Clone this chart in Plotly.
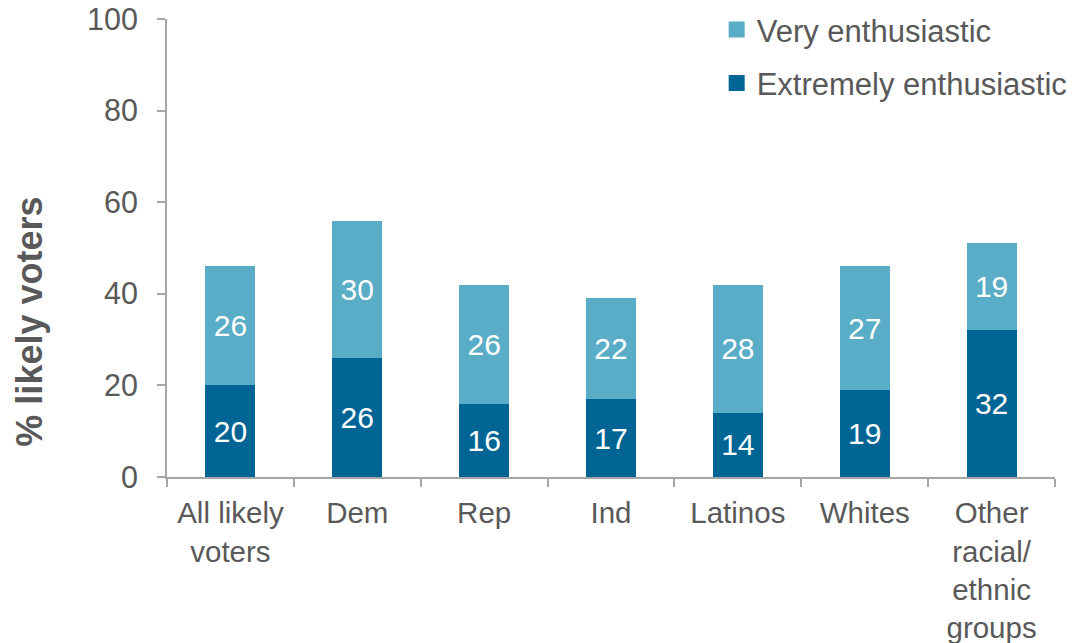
import plotly.graph_objects as go

categories = ["All likely<br>voters", "Dem", "Rep", "Ind", "Latinos", "Whites",
              "Other<br>racial/<br>ethnic<br>groups"]
extremely = [20, 26, 16, 17, 14, 19, 32]
very = [26, 30, 26, 22, 28, 27, 19]
series_names = ["Extremely enthusiastic", "Very enthusiastic"]

DARK = "#006595"
LIGHT = "#5AADC6"
GRAY = "#595959"
AXIS = "#A6A6A6"
FONT = "Liberation Sans, Arial, sans-serif"

fig = go.Figure()
for name, vals, col in [(series_names[0], extremely, DARK), (series_names[1], very, LIGHT)]:
    fig.add_trace(go.Bar(
        x=categories, y=vals, name=name,
        marker=dict(color=col, line=dict(width=0)),
        text=vals, textposition="inside", insidetextanchor="middle",
        textfont=dict(color="white", size=30, family=FONT),
        showlegend=False,
    ))
# legend keys (larger square swatches)
for name, col, rank in [(series_names[1], LIGHT, 1), (series_names[0], DARK, 2)]:
    fig.add_trace(go.Scatter(
        x=[None], y=[None], mode="markers", name=name,
        marker=dict(symbol="square", size=16, color=col),
        legendgroup=name, legendrank=rank, hoverinfo="skip",
    ))

fig.update_layout(
    barmode="stack",
    bargap=0.606,
    width=1086, height=643,
    margin=dict(l=167, r=31, t=19, b=166, autoexpand=False),
    paper_bgcolor="white", plot_bgcolor="white",
    font=dict(family=FONT, size=29, color=GRAY),
    showlegend=True,
    legend=dict(
        x=0.619, y=1.035, xanchor="left", yanchor="top",
        traceorder="grouped", tracegroupgap=10,
        font=dict(size=31, color=GRAY, family=FONT),
        bgcolor="rgba(0,0,0,0)", itemwidth=30, itemsizing="trace",
    ),
)
fig.update_xaxes(
    showline=True, linecolor=AXIS, linewidth=2,
    ticks="outside", tickson="boundaries", ticklen=8, tickcolor=AXIS, tickwidth=2,
    tickfont=dict(size=29.5, color=GRAY, family=FONT),
    ticklabelstandoff=9,
    showgrid=False,
)
fig.update_yaxes(
    range=[0, 100], dtick=20,
    showline=True, linecolor=AXIS, linewidth=2,
    ticks="outside", ticklen=8, tickcolor=AXIS, tickwidth=2,
    tickfont=dict(size=30.5, color=GRAY, family=FONT),
    ticklabelstandoff=13, ticklabeloverflow="allow",
    showgrid=False, zeroline=False,
)
fig.add_annotation(
    text="<b>% likely voters</b>", textangle=-90,
    xref="paper", yref="paper", x=-0.155, y=0.34,
    xanchor="center", yanchor="middle", showarrow=False,
    font=dict(size=36, color=GRAY, family=FONT),
)

fig.write_html(
    "out.html",
    config={"displayModeBar": False},
    post_script="document.body.style.margin='0';document.body.style.overflow='hidden';",
)
